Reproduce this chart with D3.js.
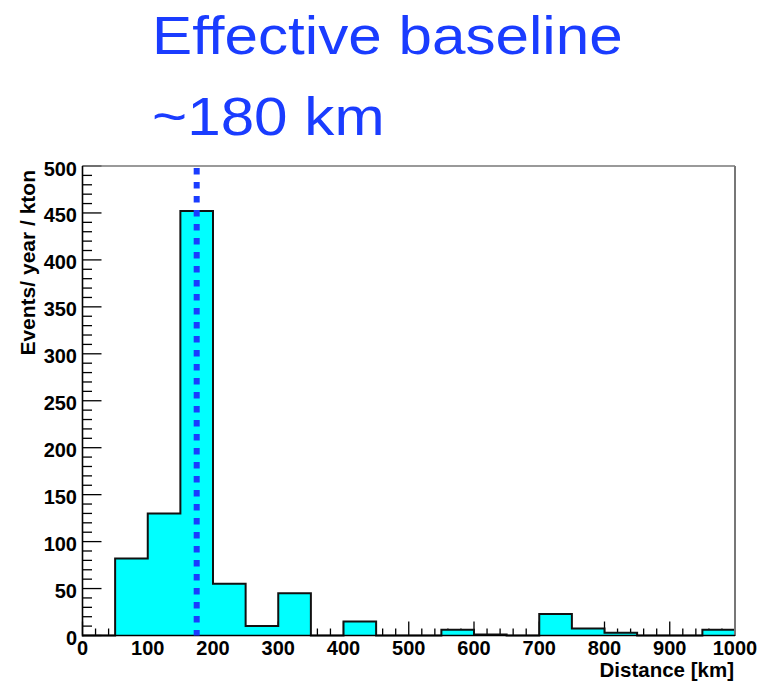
<!DOCTYPE html>
<html>
<head>
<meta charset="utf-8">
<script src="https://cdn.jsdelivr.net/npm/d3@7"></script>
<style>
  body { margin: 0; background: #fff; }
  svg { display: block; }
</style>
</head>
<body>
<script>
const width = 771
const height = 684

// histogram bins (left edge, km) and heights (events / year / kton)
const binEdges = [0, 50, 100, 150, 200, 250, 300, 350, 400, 450, 500, 550, 600, 650, 700, 750, 800, 850, 900, 950]
const binValues = [0, 82, 130, 452, 55, 10, 45, 0, 15, 0, 0, 6, 1, 0, 23, 7.5, 3, 0, 0, 6]
const binWidth = 50
const baseline = 175
const titleLines = ['Effective baseline', '~180 km']
const xTicks = [0, 100, 200, 300, 400, 500, 600, 700, 800, 900, 1000]
const yTicks = [0, 50, 100, 150, 200, 250, 300, 350, 400, 450, 500]

const plotLeft = 82.5
const plotRight = 735
const plotTop = 166
const plotBottom = 635.5
const axisFont = '"Liberation Sans", Arial, sans-serif'
const fillColor = '#00ffff'
const blue = '#1a3cff'

const x = d3.scaleLinear().domain([0, 1000]).range([plotLeft, plotRight])
const y = d3.scaleLinear().domain([0, 500]).range([plotBottom, plotTop])

const svg = d3.select('body').append('svg')
    .attr('width', width)
    .attr('height', height)

// title (the original font is wider than Liberation Sans, so stretch a bit)
svg.append('g')
    .attr('transform', 'translate(152,0) scale(1.115,1)')
    .selectAll('text')
    .data(titleLines)
    .enter().append('text')
    .attr('x', 0)
    .attr('y', (d, i) => 54 + i * 81)
    .attr('fill', blue)
    .attr('font-family', axisFont)
    .attr('font-size', 54)
    .text(d => d)

// minor and major ticks (inside the frame, drawn under the histogram)
const ticks = svg.append('g').attr('stroke', '#000').attr('stroke-width', 1.3)
d3.range(0, 1001, 20).forEach(v => {
    let len = v % 100 == 0 ? 14 : 7
    ticks.append('line')
        .attr('x1', x(v)).attr('x2', x(v))
        .attr('y1', plotBottom).attr('y2', plotBottom - len)
})
d3.range(0, 501, 10).forEach(v => {
    let len = v % 50 == 0 ? 19 : 9.5
    ticks.append('line')
        .attr('x1', plotLeft).attr('x2', plotLeft + len)
        .attr('y1', y(v)).attr('y2', y(v))
})

// histogram as one stepped outline
const bars = binEdges.map((e, i) => ({x0: e, x1: e + binWidth, v: binValues[i]}))
let pts = [[x(0), y(0)]]
bars.forEach(d => {
    pts.push([x(d.x0), y(d.v)])
    pts.push([x(d.x1), y(d.v)])
})
pts.push([x(1000), y(0)])
svg.append('path')
    .attr('d', d3.line()(pts) + 'Z')
    .attr('fill', fillColor)
    .attr('stroke', 'none')
svg.append('path')
    .attr('d', d3.line()(pts))
    .attr('fill', 'none')
    .attr('stroke', '#111')
    .attr('stroke-width', 2)

// frame
svg.append('line')
    .attr('x1', plotLeft).attr('x2', plotRight).attr('y1', plotTop).attr('y2', plotTop)
    .attr('stroke', '#777').attr('stroke-width', 1.6)
svg.append('line')
    .attr('x1', plotRight).attr('x2', plotRight).attr('y1', plotTop).attr('y2', plotBottom)
    .attr('stroke', '#777').attr('stroke-width', 2)
svg.append('line')
    .attr('x1', plotLeft).attr('x2', plotLeft).attr('y1', plotTop).attr('y2', plotBottom + 1)
    .attr('stroke', '#000').attr('stroke-width', 1.6)
svg.append('line')
    .attr('x1', plotLeft).attr('x2', plotRight).attr('y1', plotBottom).attr('y2', plotBottom)
    .attr('stroke', '#000').attr('stroke-width', 1.6)

// effective baseline marker
svg.append('line')
    .attr('x1', x(baseline)).attr('x2', x(baseline))
    .attr('y1', plotTop + 2).attr('y2', plotBottom)
    .attr('stroke', blue)
    .attr('stroke-width', 6)
    .attr('stroke-dasharray', '6.5 7.5')

// tick labels
svg.append('g').selectAll('text')
    .data(xTicks)
    .enter().append('text')
    .attr('x', d => x(d))
    .attr('y', 655)
    .attr('text-anchor', 'middle')
    .attr('font-family', axisFont)
    .attr('font-weight', 'bold')
    .attr('font-size', 20)
    .text(d => d)

svg.append('g').selectAll('text')
    .data(yTicks)
    .enter().append('text')
    .attr('x', 77)
    .attr('y', d => y(d) + 9.5)
    .attr('text-anchor', 'end')
    .attr('font-family', axisFont)
    .attr('font-weight', 'bold')
    .attr('font-size', 20)
    .text(d => d)

// axis titles
svg.append('text')
    .attr('x', plotRight - 1)
    .attr('y', 677)
    .attr('text-anchor', 'end')
    .attr('font-family', axisFont)
    .attr('font-weight', 'bold')
    .attr('font-size', 20.5)
    .text('Distance [km]')

svg.append('text')
    .attr('transform', 'translate(35,170) rotate(-90)')
    .attr('text-anchor', 'end')
    .attr('font-family', axisFont)
    .attr('font-weight', 'bold')
    .attr('font-size', 21)
    .text('Events/ year / kton')
</script>
</body>
</html>
